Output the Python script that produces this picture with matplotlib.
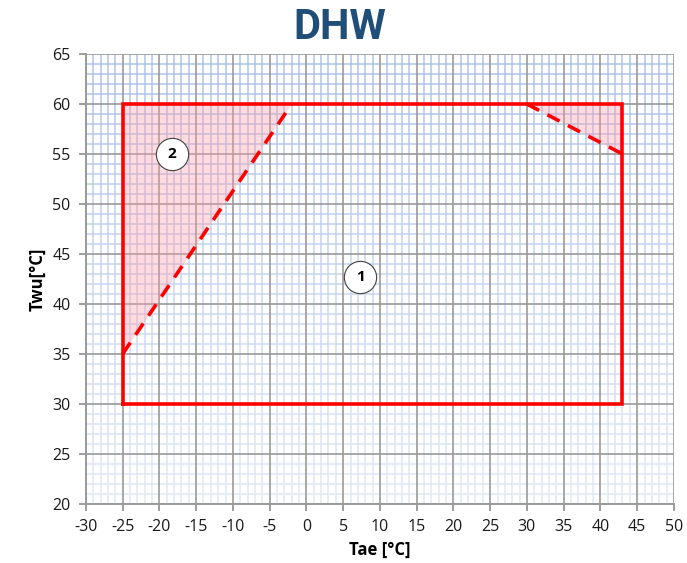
import matplotlib
matplotlib.use("Agg")
import matplotlib.pyplot as plt
import numpy as np
from matplotlib.collections import LineCollection
from matplotlib.colors import to_rgb

plt.rcParams["axes.unicode_minus"] = False
plt.rcParams["font.family"] = ["Open Sans", "DejaVu Sans"]

# ---- data ----
title = "DHW"
x_label = "Tae [°C]"
y_label = "Twu[°C]"
x_ticks = list(range(-30, 55, 5))
y_ticks = list(range(20, 70, 5))

envelope_x = [-25, 43, 43, -25, -25]
envelope_y = [30, 30, 60, 60, 30]

limit_left_x = [-25, -2]
limit_left_y = [35, 60]
zone2_x = [-25, -25, -2]
zone2_y = [35, 60, 60]

limit_right_x = [30, 43]
limit_right_y = [60, 55]
zone3_x = [30, 43, 43]
zone3_y = [60, 60, 55]

labels = ["1", "2"]
label_x = [7.3, -18.3]
label_y = [42.7, 55.0]

# ---- figure ----
fig = plt.figure(figsize=(6.87, 5.63), dpi=100)
ax = fig.add_axes([0.125, 0.1048, 0.856, 0.7992])
xmin, xmax, ymin, ymax = -30, 50, 20, 65
ax.set_xlim(xmin, xmax)
ax.set_ylim(ymin, ymax)

top_c = np.array(to_rgb("#adc2e8"))
bot_c = np.array(to_rgb("#e3eaf7"))
def col(y):
    t = (y - ymin) / (ymax - ymin)
    return tuple(bot_c + (top_c - bot_c) * t)

# minor gridlines with vertical gradient
segs, cols = [], []
for x in range(xmin, xmax + 1):
    if x % 5 == 0:
        continue
    for y0 in np.arange(ymin, ymax, 1.0):
        segs.append([(x, y0), (x, y0 + 1.0)])
        cols.append(col(y0 + 0.5))
for y in range(ymin, ymax + 1):
    if y % 5 == 0:
        continue
    segs.append([(xmin, y), (xmax, y)])
    cols.append(col(y))
ax.add_collection(LineCollection(segs, colors=cols, linewidths=1.1, zorder=0.5,
                                 capstyle="projecting"))

# major gridlines
for x in x_ticks:
    ax.axvline(x, color="#9a9a9a", lw=1.2, zorder=0.6)
for y in y_ticks:
    ax.axhline(y, color="#9a9a9a", lw=1.2, zorder=0.6)

# zones
ax.fill(zone2_x, zone2_y, color="#ff9aa8", alpha=0.35, lw=0, zorder=1)
ax.fill(zone3_x, zone3_y, color="#ff9aa8", alpha=0.35, lw=0, zorder=1)
ax.plot(envelope_x, envelope_y, color="#ff0000", lw=2.6, zorder=3, solid_joinstyle="miter")
ax.plot(limit_left_x, limit_left_y, color="#ff0000", lw=2.6, ls=(0, (3.8, 2.6)), zorder=3)
ax.plot(limit_right_x, limit_right_y, color="#ff0000", lw=2.6, ls=(0, (3.8, 2.6)), zorder=3)

# zone labels
for lx, ly, lt in zip(label_x, label_y, labels):
    ax.text(lx, ly, "    ", ha="center", va="center", fontsize=15,
            bbox=dict(boxstyle="square,pad=0.05", fc="white", ec="none"), zorder=4)
    ax.scatter([lx], [ly], s=540, facecolor="white", edgecolor="#404040", linewidth=0.8, zorder=5)
    ax.text(lx, ly, lt, ha="center", va="center", fontsize=11, fontweight="bold", zorder=6)

ax.set_xticks(x_ticks)
ax.set_yticks(y_ticks)
ax.tick_params(axis="both", direction="out", length=5, width=1.2, color="#8c8c8c",
               labelsize=11.5, labelcolor="#1a1a1a", pad=6)
for s in ax.spines.values():
    s.set_visible(False)
ax.spines["left"].set_visible(True)
ax.spines["bottom"].set_visible(True)
ax.spines["left"].set_color("#9a9a9a")
ax.spines["bottom"].set_color("#9a9a9a")
ax.spines["left"].set_linewidth(1.4)
ax.spines["bottom"].set_linewidth(1.4)

ax.set_xlabel(x_label, fontsize=12, fontweight="bold", labelpad=4)
ax.set_ylabel(y_label, fontsize=12, fontweight="bold", labelpad=4)
fig.text(0.495, 0.952, title, ha="center", va="center", fontsize=30, fontweight="bold",
         color="#1f4e79", family=["Liberation Sans Narrow", "Roboto", "DejaVu Sans"])

fig.savefig("out.png", dpi=100)
